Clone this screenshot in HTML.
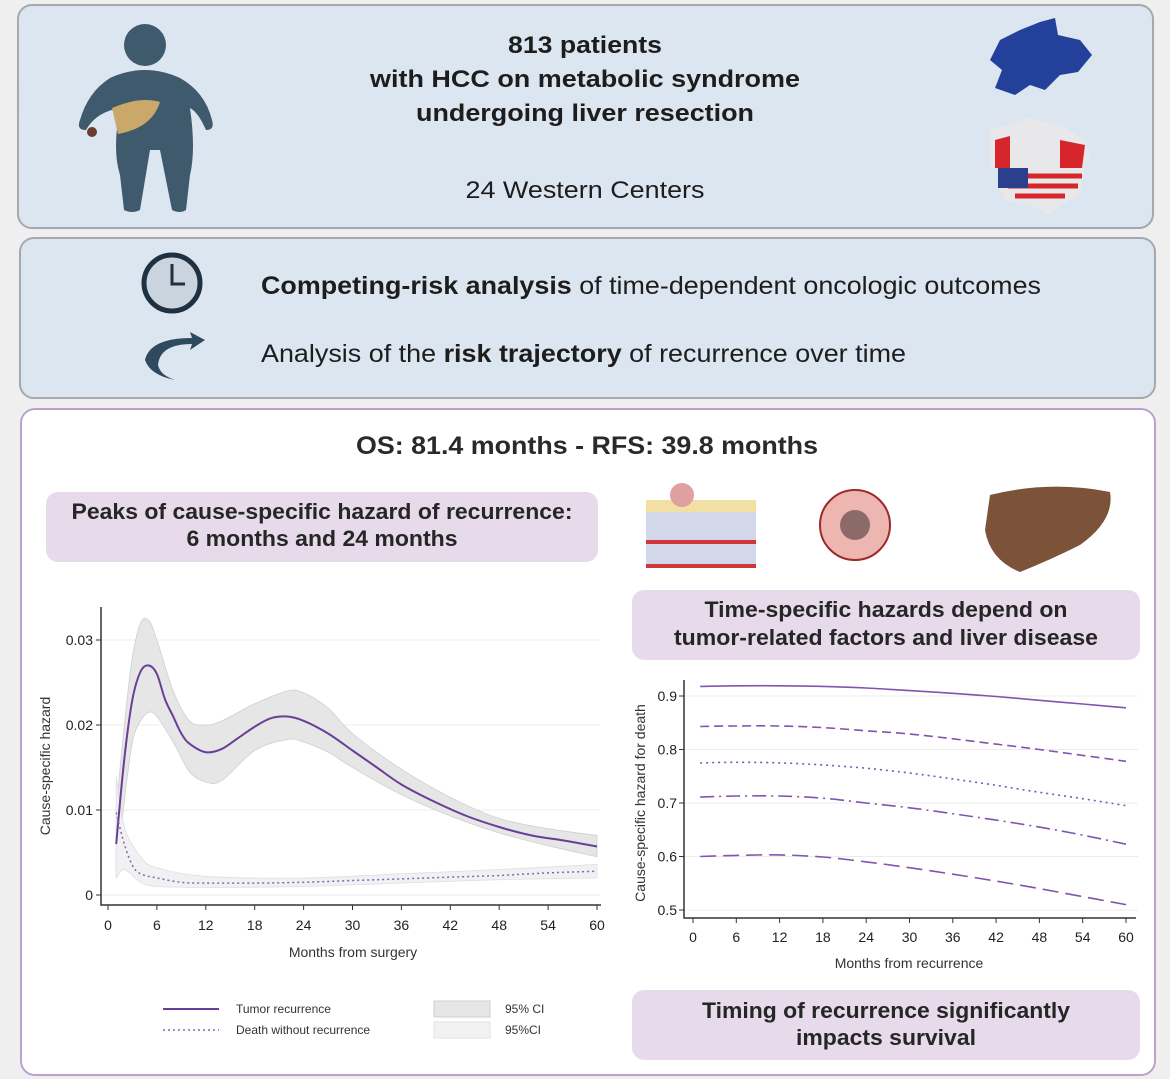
<!DOCTYPE html>
<html><head><meta charset="utf-8"><style>
html,body{margin:0;padding:0;background:#efefef;}
svg{display:block;font-family:"Liberation Sans",sans-serif;}
</style></head><body>
<svg id="root" width="1170" height="1079" viewBox="0 0 1170 1079">
<rect x="0" y="0" width="1170" height="1079" fill="#efefef"/>
<g>
<rect x="18" y="5" width="1135" height="223" rx="14" fill="#dce6f1" stroke="#a5a9ad" stroke-width="2"/>
<g fill="#3e5a6c">
<circle cx="145" cy="45" r="21"/>
<path d="M110 78 Q145 62 180 78 Q205 92 212 120 Q215 130 206 130 Q198 112 190 108 Q196 150 190 175 L186 210 Q180 214 172 210 L160 150 L150 150 L140 210 Q132 214 124 210 L120 175 Q112 150 120 108 Q96 112 86 130 Q76 130 80 120 Q88 92 110 78Z"/>
</g>
<path d="M112 108 Q140 96 160 102 Q152 128 118 134Z" fill="#c9a86a"/>
<circle cx="92" cy="132" r="5" fill="#6b3d30"/>
<text x="585" y="53" text-anchor="middle" font-size="24" font-weight="bold" fill="#1d1d1d" textLength="154" lengthAdjust="spacingAndGlyphs">813 patients</text>
<text x="585" y="87" text-anchor="middle" font-size="24" font-weight="bold" fill="#1d1d1d" textLength="430" lengthAdjust="spacingAndGlyphs">with HCC on metabolic syndrome</text>
<text x="585" y="121" text-anchor="middle" font-size="24" font-weight="bold" fill="#1d1d1d" textLength="338" lengthAdjust="spacingAndGlyphs">undergoing liver resection</text>
<text x="585" y="198" text-anchor="middle" font-size="24" fill="#1d1d1d" textLength="239" lengthAdjust="spacingAndGlyphs">24 Western Centers</text>
<path d="M1000 40 L1020 30 L1040 22 L1055 18 L1058 35 L1080 40 L1092 55 L1078 72 L1060 75 L1045 90 L1030 85 L1015 95 L995 88 L1002 70 L990 60Z" fill="#23409a"/>
<g>
<path d="M990 130 L1030 118 L1060 125 L1085 140 L1090 160 L1075 168 L990 168Z" fill="#e8e8ea"/>
<path d="M995 140 L1010 136 L1010 168 L995 168Z M1060 140 L1085 145 L1082 168 L1060 168Z" fill="#d7262b"/>
<path d="M998 168 L1085 168 L1080 195 L1060 205 L1050 215 L1030 205 L1005 200 L998 185Z" fill="#e8e8ea"/>
<path d="M1005 176 L1082 176 M1008 186 L1078 186 M1015 196 L1065 196" stroke="#d7262b" stroke-width="5"/>
<rect x="998" y="168" width="30" height="20" fill="#2c3f8c"/>
</g>
</g>
<g>
<rect x="20" y="238" width="1135" height="160" rx="14" fill="#dce6f1" stroke="#a5a9ad" stroke-width="2"/>
<g>
<circle cx="172" cy="283" r="28" fill="#c9d4df" stroke="#1f3140" stroke-width="5"/>
<path d="M172 264 L172 284 L185 284" stroke="#1f3140" stroke-width="3" fill="none"/>
</g>
<path d="M190 332 L205 340 L190 350 L192 344 Q160 344 158 365 Q160 375 175 380 Q150 375 145 360 Q150 338 192 338Z" fill="#2e4a5e"/>
<text x="261" y="294" font-size="25" fill="#1d1d1d" textLength="780" lengthAdjust="spacingAndGlyphs"><tspan font-weight="bold">Competing-risk analysis</tspan> of time-dependent oncologic outcomes</text>
<text x="261" y="362" font-size="25" fill="#1d1d1d" textLength="645" lengthAdjust="spacingAndGlyphs">Analysis of the <tspan font-weight="bold">risk trajectory</tspan> of recurrence over time</text>
</g>
<g>
<rect x="21" y="409" width="1134" height="666" rx="14" fill="#ffffff" stroke="#b9a2cd" stroke-width="2"/>
<text x="587" y="454" text-anchor="middle" font-size="25" font-weight="bold" fill="#2a2a2a" textLength="462" lengthAdjust="spacingAndGlyphs">OS: 81.4 months - RFS: 39.8 months</text>
<rect x="46" y="492" width="552" height="70" rx="12" fill="#e7dbeb"/>
<text x="322" y="519" text-anchor="middle" font-size="22" font-weight="bold" fill="#262626" textLength="501" lengthAdjust="spacingAndGlyphs">Peaks of cause-specific hazard of recurrence:</text>
<text x="322" y="546" text-anchor="middle" font-size="22" font-weight="bold" fill="#262626" textLength="271" lengthAdjust="spacingAndGlyphs">6 months and 24 months</text>
<g>
<rect x="646" y="500" width="110" height="68" fill="#d2d8ea"/>
<rect x="646" y="500" width="110" height="12" fill="#f1dfa3"/>
<rect x="646" y="540" width="110" height="4" fill="#d2363a"/>
<rect x="646" y="564" width="110" height="4" fill="#d2363a"/>
<circle cx="682" cy="495" r="12" fill="#e0a0a0"/>
</g>
<g>
<circle cx="855" cy="525" r="35" fill="#eeb6b0" stroke="#9b2a2a" stroke-width="2"/>
<circle cx="855" cy="525" r="15" fill="#8c6a6a"/>
</g>
<path d="M990 495 Q1050 480 1110 492 Q1115 520 1080 545 Q1050 560 1020 572 Q990 560 985 530Z" fill="#7c5338"/>
<rect x="632" y="590" width="508" height="70" rx="12" fill="#e7dbeb"/>
<text x="886" y="617" text-anchor="middle" font-size="22" font-weight="bold" fill="#262626" textLength="363" lengthAdjust="spacingAndGlyphs">Time-specific hazards depend on</text>
<text x="886" y="645" text-anchor="middle" font-size="22" font-weight="bold" fill="#262626" textLength="424" lengthAdjust="spacingAndGlyphs">tumor-related factors and liver disease</text>
<rect x="632" y="990" width="508" height="70" rx="12" fill="#e7dbeb"/>
<text x="886" y="1018" text-anchor="middle" font-size="22" font-weight="bold" fill="#262626" textLength="368" lengthAdjust="spacingAndGlyphs">Timing of recurrence significantly</text>
<text x="886" y="1045" text-anchor="middle" font-size="22" font-weight="bold" fill="#262626" textLength="180" lengthAdjust="spacingAndGlyphs">impacts survival</text>
</g>
<g id="leftChart"></g>
<g id="rightChart"></g>
</svg>
<script>
const leftXTicks = [0,6,12,18,24,30,36,42,48,54,60];
const leftYTicks = [0,0.01,0.02,0.03];
const leftYTickLabels = ["0","0.01","0.02","0.03"];
const tumorMonths = [1,2,3,4,5,6,7,8,9,10,12,14,16,18,20,22,24,27,30,33,36,40,44,48,52,56,60];
const tumorHazard = [0.006,0.016,0.023,0.0263,0.027,0.026,0.023,0.021,0.019,0.0178,0.0168,0.0172,0.0185,0.0198,0.0208,0.021,0.0205,0.019,0.017,0.015,0.013,0.011,0.0093,0.008,0.007,0.0064,0.0057];
const tumorCIMonths = [1,2,3,4,5,6,8,10,12,14,18,22,24,27,30,36,42,48,54,60];
const tumorUpper = [0.01,0.02,0.028,0.032,0.0323,0.030,0.024,0.0205,0.020,0.0205,0.0225,0.024,0.0238,0.022,0.019,0.0148,0.0115,0.009,0.0078,0.007];
const tumorLower = [0.002,0.011,0.018,0.0205,0.0215,0.021,0.018,0.0145,0.0133,0.0135,0.017,0.0183,0.018,0.0168,0.015,0.0118,0.0093,0.0073,0.0058,0.0045];
const deathMonths = [1,2,3,4,6,9,12,18,24,30,36,42,48,54,60];
const deathHazard = [0.0097,0.006,0.0035,0.0025,0.002,0.0015,0.0014,0.0014,0.0015,0.0017,0.0019,0.0021,0.0023,0.0026,0.0028];
const deathCIMonths = [1,2,4,6,12,24,36,48,60];
const deathUpper = [0.014,0.008,0.0045,0.0032,0.0022,0.002,0.0025,0.003,0.0036];
const deathLower = [0.002,0.003,0.0015,0.001,0.0009,0.001,0.0014,0.0018,0.002];
const rightXTicks = [0,6,12,18,24,30,36,42,48,54,60];
const rightYTicks = [0.5,0.6,0.7,0.8,0.9];
const rightYTickLabels = ["0.5","0.6","0.7","0.8","0.9"];
const rightMonths = [1,6,12,18,24,30,36,42,48,54,60];
const seriesA = [0.918,0.919,0.919,0.918,0.915,0.91,0.905,0.899,0.892,0.885,0.878];
const seriesB = [0.843,0.844,0.844,0.841,0.835,0.829,0.82,0.81,0.80,0.789,0.778];
const seriesC = [0.775,0.776,0.775,0.771,0.765,0.756,0.745,0.733,0.72,0.708,0.695];
const seriesD = [0.711,0.713,0.713,0.709,0.70,0.691,0.68,0.668,0.655,0.64,0.623];
const seriesE = [0.600,0.602,0.603,0.599,0.59,0.579,0.567,0.554,0.54,0.525,0.51];
const rightDash = ["", "9 5", "2 4", "14 5 2 5", "16 7"];

const NS="http://www.w3.org/2000/svg";
function mk(tag,attrs,parent){const e=document.createElementNS(NS,tag);for(const k in attrs)e.setAttribute(k,attrs[k]);parent.appendChild(e);return e;}
function smooth(pts){let d="M"+pts[0][0].toFixed(1)+" "+pts[0][1].toFixed(1);
 for(let i=0;i<pts.length-1;i++){const p0=pts[Math.max(0,i-1)],p1=pts[i],p2=pts[i+1],p3=pts[Math.min(pts.length-1,i+2)];
 const c1=[p1[0]+(p2[0]-p0[0])/6,p1[1]+(p2[1]-p0[1])/6],c2=[p2[0]-(p3[0]-p1[0])/6,p2[1]-(p3[1]-p1[1])/6];
 d+=" C"+c1[0].toFixed(1)+" "+c1[1].toFixed(1)+" "+c2[0].toFixed(1)+" "+c2[1].toFixed(1)+" "+p2[0].toFixed(1)+" "+p2[1].toFixed(1);}return d;}
function band(xs,up,lo,X,Y){const a=xs.map((m,i)=>[X(m),Y(up[i])]);const b=xs.map((m,i)=>[X(m),Y(lo[i])]).reverse();
 let d=smooth(a);d+=" L"+b[0][0]+" "+b[0][1]+smooth(b).replace(/^M[^C]*/," ");return d+"Z";}

(function(){
const g=document.getElementById('leftChart');
const X=m=>108+m*(597-108)/60, Y=v=>895-v*8500;
leftYTicks.forEach((t,i)=>{
 const gl=mk('line',{x1:101,x2:600,y1:Y(t),y2:Y(t),stroke:'#ececec','stroke-width':1},g);
 
 
 const tk=mk('line',{x1:96,x2:101,y1:Y(t),y2:Y(t),stroke:'#333'},g);
 
 
 const tx=mk('text',{x:93,y:Y(t)+5,'text-anchor':'end','font-size':14,fill:'#222'},g);tx.textContent=leftYTickLabels[i];
 
 
});
const b1=mk('path',{d:band(tumorCIMonths,tumorUpper,tumorLower,X,Y),fill:'#e6e6e6',stroke:'#cfcfcf','stroke-width':0.8},g);


const b2=mk('path',{d:band(deathCIMonths,deathUpper,deathLower,X,Y),fill:'#f1f0f3',stroke:'#e0dde4','stroke-width':0.8},g);


const l1=mk('path',{d:smooth(tumorMonths.map((m,i)=>[X(m),Y(tumorHazard[i])])),fill:'none',stroke:'#6a3d96','stroke-width':2},g);


const l2=mk('path',{d:smooth(deathMonths.map((m,i)=>[X(m),Y(deathHazard[i])])),fill:'none',stroke:'#8a62b0','stroke-width':1.5,'stroke-dasharray':'2 3'},g);


const ax=mk('path',{d:'M101 607 L101 905 L601 905',fill:'none',stroke:'#333','stroke-width':1.5},g);


leftXTicks.forEach(t=>{
 const tk=mk('line',{x1:X(t),x2:X(t),y1:905,y2:910,stroke:'#333'},g);
 
 
 const tx=mk('text',{x:X(t),y:930,'text-anchor':'middle','font-size':14,fill:'#222'},g);tx.textContent=t;
 
 
});
const xt=mk('text',{x:353,y:957,'text-anchor':'middle','font-size':14,fill:'#333'},g);xt.textContent='Months from surgery';


const yt=mk('text',{x:0,y:0,transform:'translate(50 766) rotate(-90)','text-anchor':'middle','font-size':14,fill:'#333'},g);yt.textContent='Cause-specific hazard';


const lg=mk('g',{},g);


mk('line',{x1:163,x2:219,y1:1009,y2:1009,stroke:'#6a3d96','stroke-width':2},lg);
mk('line',{x1:163,x2:219,y1:1030,y2:1030,stroke:'#8a62b0','stroke-width':1.5,'stroke-dasharray':'2 3'},lg);
let t1=mk('text',{x:236,y:1013,'font-size':12,fill:'#333'},lg);t1.textContent='Tumor recurrence';
let t2=mk('text',{x:236,y:1034,'font-size':12,fill:'#333'},lg);t2.textContent='Death without recurrence';
mk('rect',{x:434,y:1001,width:56,height:16,fill:'#e6e6e6',stroke:'#cfcfcf'},lg);
mk('rect',{x:434,y:1022,width:56,height:16,fill:'#f2f2f2',stroke:'#e2e2e2'},lg);
let t3=mk('text',{x:505,y:1013,'font-size':12,fill:'#333'},lg);t3.textContent='95% CI';
let t4=mk('text',{x:505,y:1034,'font-size':12,fill:'#333'},lg);t4.textContent='95%CI';
})();

(function(){
const g=document.getElementById('rightChart');
const X=m=>693+m*(1126-693)/60, Y=v=>910-(v-0.5)*535;
rightYTicks.forEach((t,i)=>{
 const gl=mk('line',{x1:684,x2:1138,y1:Y(t),y2:Y(t),stroke:'#ececec','stroke-width':1},g);
 
 
 const tk=mk('line',{x1:679,x2:684,y1:Y(t),y2:Y(t),stroke:'#333'},g);
 
 
 const tx=mk('text',{x:677,y:Y(t)+5,'text-anchor':'end','font-size':14,fill:'#222'},g);tx.textContent=rightYTickLabels[i];
 
 
});
[seriesA,seriesB,seriesC,seriesD,seriesE].forEach((s,k)=>{
 const p=mk('path',{d:smooth(rightMonths.map((m,i)=>[X(m),Y(s[i])])),fill:'none',stroke:'#8055ad','stroke-width':1.6},g);
 if(rightDash[k])p.setAttribute('stroke-dasharray',rightDash[k]);
 
 
});
const ax=mk('path',{d:'M684 680 L684 918 L1136 918',fill:'none',stroke:'#333','stroke-width':1.5},g);


rightXTicks.forEach(t=>{
 const tk=mk('line',{x1:X(t),x2:X(t),y1:918,y2:923,stroke:'#333'},g);
 
 
 const tx=mk('text',{x:X(t),y:942,'text-anchor':'middle','font-size':14,fill:'#222'},g);tx.textContent=t;
 
 
});
const xt=mk('text',{x:909,y:968,'text-anchor':'middle','font-size':14,fill:'#333'},g);xt.textContent='Months from recurrence';


const yt=mk('text',{x:0,y:0,transform:'translate(645 803) rotate(-90)','text-anchor':'middle','font-size':14,fill:'#333'},g);yt.textContent='Cause-specific hazard for death';


})();
</script>
</body></html>
